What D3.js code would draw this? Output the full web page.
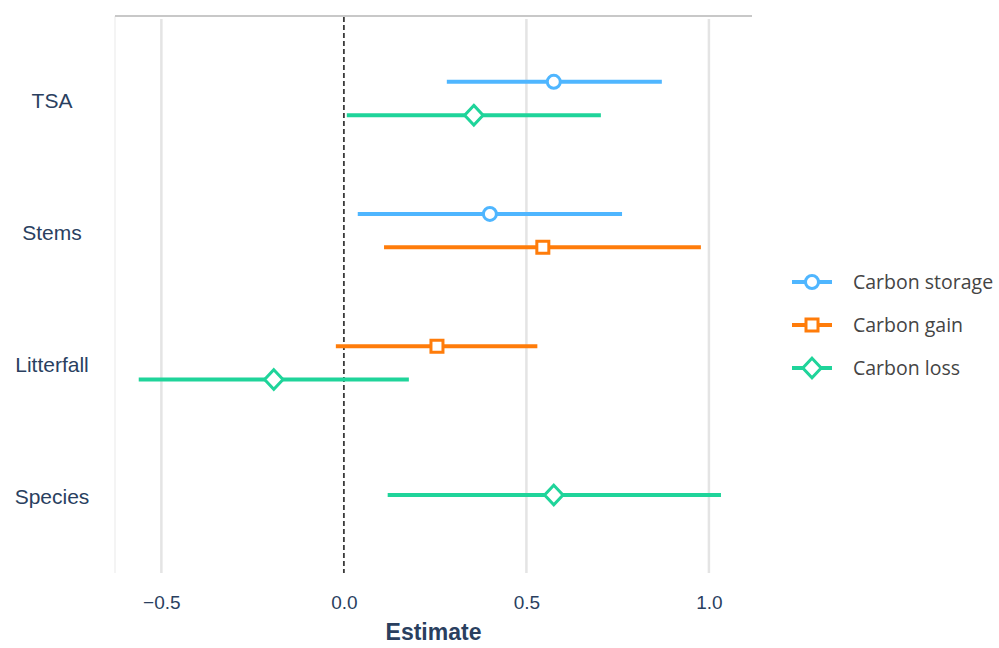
<!DOCTYPE html>
<html>
<head>
<meta charset="utf-8">
<script src="https://cdn.jsdelivr.net/npm/d3@7"></script>
<style>
  html, body { margin: 0; padding: 0; background: #fff; }
  svg { display: block; }
</style>
</head>
<body>
<div id="chart"></div>
<script>
// Predictors shown on the y axis, top to bottom
const categories = ["TSA", "Stems", "Litterfall", "Species"];

// Response series and their colours / marker shapes
const seriesNames = ["Carbon storage", "Carbon gain", "Carbon loss"];
const seriesColors = ["#4FB6FF", "#FF7C0A", "#1FD49A"];
const seriesShapes = ["circle", "square", "diamond"];

// Estimates with lower / upper confidence limits (null = not in model)
const storageEst  = [0.575, 0.400, null, null];
const storageLow  = [0.282, 0.038, null, null];
const storageHigh = [0.871, 0.762, null, null];

const gainEst  = [null, 0.545, 0.255, null];
const gainLow  = [null, 0.110, -0.022, null];
const gainHigh = [null, 0.978, 0.530, null];

const lossEst  = [0.356, null, -0.192, 0.575];
const lossLow  = [0.008, null, -0.562, 0.120];
const lossHigh = [0.704, null, 0.178, 1.033];

const xTicks = [-0.5, 0.0, 0.5, 1.0];
const xTitle = "Estimate";

// Assemble rows for drawing
const estTable = [storageEst, gainEst, lossEst];
const lowTable = [storageLow, gainLow, lossLow];
const highTable = [storageHigh, gainHigh, lossHigh];

const rows = [];
categories.forEach((cat, ci) => {
  seriesNames.forEach((s, si) => {
    const est = estTable[si][ci];
    if (est !== null) {
      rows.push({ cat, series: s, si, est, low: lowTable[si][ci], high: highTable[si][ci] });
    }
  });
});

const W = 999, H = 648;
const plot = { left: 115, right: 752, top: 16, bottom: 573 };

const svg = d3.select("#chart").append("svg")
  .attr("width", W).attr("height", H);

const x = d3.scaleLinear().domain([-0.627, 1.118]).range([plot.left, plot.right]);
const y = d3.scalePoint().domain(categories).range([98.5, 495]);

// Frame lines
svg.append("line")
  .attr("x1", plot.left).attr("x2", plot.left)
  .attr("y1", plot.top).attr("y2", plot.bottom)
  .attr("stroke", "#f0f0f0").attr("stroke-width", 1.5);
svg.append("line")
  .attr("x1", plot.left).attr("x2", plot.right)
  .attr("y1", plot.top).attr("y2", plot.top)
  .attr("stroke", "#c8c8c8").attr("stroke-width", 2);

// Vertical grid lines
svg.append("g").selectAll("line")
  .data(xTicks.filter(d => d !== 0))
  .join("line")
  .attr("x1", d => x(d)).attr("x2", d => x(d))
  .attr("y1", plot.top + 3).attr("y2", plot.bottom)
  .attr("stroke", "#e4e4e4").attr("stroke-width", 2.5);

// Zero reference line
svg.append("line")
  .attr("x1", x(0)).attr("x2", x(0))
  .attr("y1", plot.top + 1).attr("y2", plot.bottom)
  .attr("stroke", "#3a3a3a").attr("stroke-width", 1.8)
  .attr("stroke-dasharray", "5,3");

// X axis
const xAxis = d3.axisBottom(x).tickValues(xTicks).tickFormat(d3.format(".1f")).tickSize(0).tickPadding(0);
const gx = svg.append("g").attr("transform", `translate(0,${plot.bottom})`).call(xAxis);
gx.select(".domain").remove();
gx.selectAll("text")
  .attr("y", 36).attr("dy", null)
  .attr("fill", "#2a3f5f")
  .style("font-family", "'Liberation Sans', Arial, sans-serif")
  .style("font-size", "19px");

svg.append("text")
  .attr("x", (plot.left + plot.right) / 2).attr("y", 640)
  .attr("text-anchor", "middle")
  .attr("fill", "#2a3f5f")
  .style("font-family", "'Liberation Sans', Arial, sans-serif")
  .style("font-size", "23px").style("font-weight", "bold")
  .text(xTitle);

// Y category labels
svg.append("g").selectAll("text")
  .data(categories)
  .join("text")
  .attr("x", 52).attr("y", d => y(d) + 1.5)
  .attr("text-anchor", "middle")
  .attr("dominant-baseline", "central")
  .attr("fill", "#2a3f5f")
  .style("font-family", "'Liberation Sans', Arial, sans-serif")
  .style("font-size", "21px")
  .text(d => d);

// Dodge offset inside each category
function dodge(cat) {
  const present = rows.filter(r => r.cat === cat).map(r => r.series);
  return d3.scalePoint().domain(present).range([-16.7, 16.7]);
}
const dodgeScales = new Map(categories.map(c => [c, dodge(c)]));
const yPos = r => y(r.cat) + dodgeScales.get(r.cat)(r.series);

function markerPath(shape) {
  if (shape === "circle") return d3.symbol(d3.symbolCircle, Math.PI * 6.5 * 6.5)();
  if (shape === "square") return "M-6,-6H6V6H-6Z";
  return "M0,-9.8L9.2,0L0,9.8L-9.2,0Z";
}

// Confidence intervals
svg.append("g").selectAll("line")
  .data(rows)
  .join("line")
  .attr("x1", d => x(d.low)).attr("x2", d => x(d.high))
  .attr("y1", yPos).attr("y2", yPos)
  .attr("stroke", d => seriesColors[d.si])
  .attr("stroke-width", 4);

// Point estimates
svg.append("g").selectAll("path")
  .data(rows)
  .join("path")
  .attr("transform", d => `translate(${x(d.est)},${yPos(d)})`)
  .attr("d", d => markerPath(seriesShapes[d.si]))
  .attr("fill", "#fff")
  .attr("stroke", d => seriesColors[d.si])
  .attr("stroke-width", 3);

// Legend
const legend = svg.append("g");
const legendY = d3.scalePoint().domain(seriesNames).range([282, 368]);
seriesNames.forEach((s, i) => {
  const g = legend.append("g").attr("transform", `translate(812,${legendY(s)})`);
  g.append("line").attr("x1", -20).attr("x2", 20)
    .attr("stroke", seriesColors[i]).attr("stroke-width", 4);
  g.append("path").attr("d", markerPath(seriesShapes[i]))
    .attr("fill", "#fff").attr("stroke", seriesColors[i]).attr("stroke-width", 3);
  g.append("text").attr("x", 41).attr("y", -1)
    .attr("dominant-baseline", "central")
    .attr("fill", "#444")
    .style("font-family", "'Open Sans', 'Noto Sans', sans-serif")
    .style("font-size", "19.5px")
    .text(s);
});
</script>
</body>
</html>
